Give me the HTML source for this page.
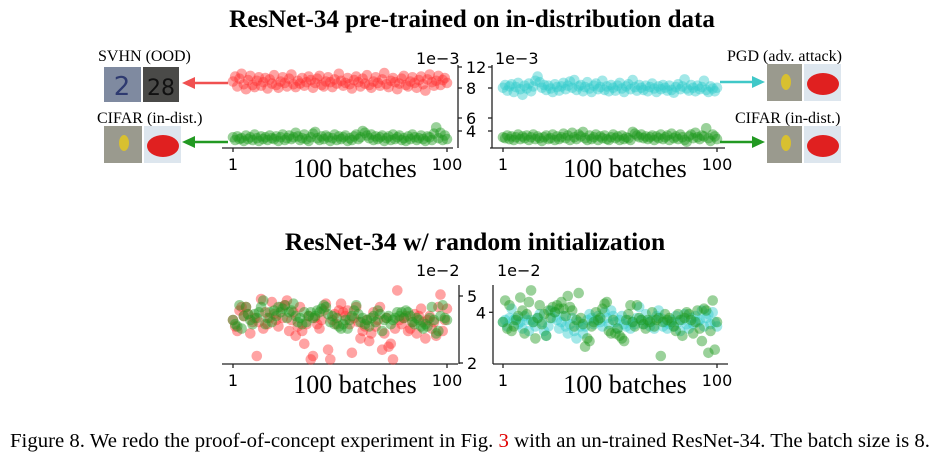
<!DOCTYPE html>
<html><head><meta charset="utf-8"><style>
body{margin:0;background:#fff;}
svg{display:block;}
.serif{font-family:"Liberation Serif",serif;}
.sans{font-family:"DejaVu Sans",sans-serif;}
</style></head><body>
<svg id="fig" width="945" height="460" viewBox="0 0 945 460">
<text x="472" y="27" text-anchor="middle" class="serif" font-size="25" font-weight="bold">ResNet-34 pre-trained on in-distribution data</text>
<text x="475" y="250" text-anchor="middle" class="serif" font-size="25.5" font-weight="bold">ResNet-34 w/ random initialization</text>
<text x="10" y="447" class="serif" font-size="20" textLength="920" lengthAdjust="spacingAndGlyphs">Figure 8. We redo the proof-of-concept experiment in Fig. <tspan fill="#e00000">3</tspan> with an un-trained ResNet-34. The batch size is 8.</text>

<text x="98" y="61" class="serif" font-size="16">SVHN (OOD)</text>
<rect x="104" y="67" width="37" height="35" fill="#7f8aa0"/>
<text x="122" y="95" text-anchor="middle" class="sans" font-size="26" fill="#2e3a70">2</text>
<rect x="143" y="67" width="36" height="35" fill="#4a4a48"/>
<text x="161" y="95" text-anchor="middle" class="sans" font-size="22" fill="#111">28</text>
<text x="97" y="123" class="serif" font-size="16">CIFAR (in-dist.)</text>
<rect x="104" y="126" width="38" height="37" fill="#9a9a8e"/>
<ellipse cx="124" cy="143" rx="5" ry="8" fill="#d8c030"/>
<rect x="144" y="126" width="37" height="37" fill="#dde6ee"/>
<ellipse cx="163" cy="146" rx="16" ry="11" fill="#e02020"/>

<text x="727" y="61" class="serif" font-size="16">PGD (adv. attack)</text>
<rect x="767" y="64" width="35" height="37" fill="#9a9a8e"/>
<ellipse cx="786" cy="82" rx="5" ry="8" fill="#d8c030"/>
<rect x="804" y="64" width="37" height="37" fill="#dde6ee"/>
<ellipse cx="823" cy="84" rx="16" ry="11" fill="#e02020"/>
<text x="735" y="123" class="serif" font-size="16">CIFAR (in-dist.)</text>
<rect x="767" y="126" width="35" height="37" fill="#9a9a8e"/>
<ellipse cx="786" cy="143" rx="5" ry="8" fill="#d8c030"/>
<rect x="804" y="126" width="37" height="37" fill="#dde6ee"/>
<ellipse cx="823" cy="146" rx="16" ry="11" fill="#e02020"/>

<g><line x1="228" y1="83" x2="192" y2="83" stroke="#f05050" stroke-width="2.5"/><polygon points="182,83 195,77 195,89" fill="#f05050"/></g>
<g><line x1="228" y1="142" x2="192" y2="142" stroke="#229922" stroke-width="2.5"/><polygon points="182,142 195,136 195,148" fill="#229922"/></g>
<g><line x1="720" y1="82" x2="755" y2="82" stroke="#40c8c8" stroke-width="2.5"/><polygon points="765,82 752,76 752,88" fill="#40c8c8"/></g>
<g><line x1="720" y1="142" x2="755" y2="142" stroke="#229922" stroke-width="2.5"/><polygon points="765,142 752,136 752,148" fill="#229922"/></g>

<g id="axes"></g>
<g id="marks"></g>
</svg>
<script>
const batchTicks=["1","100"];
const topTickLabels=["12","8","6","4"];
const botTickLabels=["5","2"];
const redTop=[9.5,10.2,8.8,9.9,10.6,9.1,8.4,9.7,10.3,9.0,8.7,9.6,10.1,8.9,9.4,10.0,8.5,9.8,9.2,10.4,9.0,8.6,9.5,10.1,9.3,8.8,9.9,10.5,9.1,8.7,9.6,9.2,10.0,8.9,9.4,10.2,9.7,8.6,9.3,9.9,10.3,9.0,8.8,9.5,10.1,9.4,8.7,9.8,9.2,10.6,9.6,8.9,9.3,10.0,9.1,8.5,9.7,10.2,9.4,8.8,9.9,9.2,10.4,9.0,8.6,9.5,10.1,9.3,8.9,9.8,10.7,9.1,8.7,9.6,10.0,9.4,8.4,9.2,9.9,10.3,9.0,8.8,9.5,10.1,9.3,8.6,9.7,10.2,9.1,8.2,9.8,10.5,9.4,8.9,9.6,10.3,9.0,9.7,10.0,9.3];
const greenTopL=[3.3,3.0,3.4,3.1,3.2,2.9,3.5,3.1,3.3,3.0,3.6,3.2,2.9,3.4,3.1,3.3,3.0,3.5,3.2,3.1,3.4,2.9,3.3,3.6,3.0,3.2,3.5,3.1,3.3,3.8,3.4,3.0,3.2,3.6,3.1,2.9,3.3,3.7,3.9,3.2,3.0,3.4,3.1,3.5,3.3,2.9,3.2,3.6,3.0,3.4,3.1,3.3,3.5,2.9,3.2,3.0,3.4,3.6,3.1,3.3,4.0,3.8,3.5,3.2,3.6,3.0,3.4,3.1,3.3,3.5,2.9,3.2,3.4,3.0,3.6,3.1,3.3,3.5,3.0,3.2,2.9,3.4,3.1,3.6,3.3,3.0,3.2,3.5,3.1,2.9,3.4,3.3,3.0,3.7,4.4,3.2,3.8,3.0,3.5,3.1];
const cyanTop=[8.6,9.0,8.2,8.8,9.1,8.0,8.7,9.3,8.4,7.6,8.9,8.5,9.2,8.1,8.8,9.6,10.2,9.4,8.6,9.0,8.3,8.9,8.5,8.0,9.1,8.7,8.2,8.8,9.3,8.4,8.9,9.5,8.6,9.7,8.3,8.8,9.0,8.1,8.7,9.4,8.5,8.0,8.9,9.2,8.4,8.7,9.6,8.3,8.8,8.1,9.0,8.6,8.2,8.9,9.3,8.5,8.0,8.8,9.1,8.4,9.7,8.7,8.2,9.0,8.6,8.3,8.9,8.1,8.7,9.2,8.5,8.0,8.8,8.4,9.0,8.6,8.2,8.9,8.3,7.9,8.7,9.1,8.4,8.8,9.8,8.5,8.2,9.0,8.6,8.1,8.9,8.4,8.7,9.6,8.3,8.0,8.8,8.5,8.1,8.6];
const greenTopR=[3.3,3.2,3.5,3.1,3.4,3.0,3.3,3.6,3.1,3.4,3.2,3.5,3.0,3.3,3.6,3.1,3.4,3.2,2.9,3.3,3.5,3.1,3.2,3.6,3.0,3.4,3.1,3.3,3.7,3.2,3.5,3.0,3.8,3.3,3.1,3.6,3.4,3.9,3.2,3.0,3.5,3.1,3.3,3.6,3.0,3.4,3.2,3.5,3.1,3.0,3.3,3.6,3.2,3.4,3.0,3.5,3.1,3.3,3.2,3.0,3.9,3.7,3.5,3.3,3.6,3.2,3.4,3.1,3.3,3.5,3.0,3.4,3.2,3.6,3.1,3.3,3.5,3.0,3.7,3.2,3.4,3.1,3.6,3.3,3.0,2.8,3.4,3.6,3.2,3.8,3.3,3.1,3.5,3.4,4.3,3.2,2.9,3.6,3.4,3.1];
const redBotL=[3.6,3.3,3.1,4.1,4.3,3.8,4.3,3.9,3.0,3.5,3.7,2.2,3.5,4.8,3.2,4.0,3.4,3.7,4.6,3.9,3.6,3.3,4.3,3.7,4.4,4.7,3.1,3.6,4.0,2.9,3.3,4.3,3.1,2.6,3.4,3.8,2.1,2.2,3.7,3.4,3.2,3.6,4.1,4.5,2.4,2.1,3.6,3.9,3.4,4.1,4.5,4.0,3.8,4.1,3.4,2.3,3.7,4.3,3.5,2.8,3.1,3.3,3.6,2.7,3.0,4.0,3.3,3.6,4.3,2.4,3.0,3.7,2.5,2.6,2.1,3.2,5.4,3.6,3.4,3.7,3.8,3.1,3.2,3.5,3.9,3.0,3.8,4.2,3.5,2.8,3.6,3.8,3.2,3.5,2.9,4.3,5.1,3.1,3.6,4.2];
const greenBotL=[3.6,3.4,3.3,4.4,3.2,3.8,4.3,3.9,3.6,3.4,3.9,3.7,4.0,4.3,4.7,3.4,3.7,4.0,3.5,4.1,3.8,4.3,4.0,4.2,4.4,3.7,4.0,4.1,4.5,3.8,3.5,3.7,3.4,4.0,3.5,3.8,4.0,3.7,3.8,4.1,4.0,4.2,4.4,4.3,3.9,3.5,3.8,3.4,3.7,3.3,3.2,3.4,3.6,3.2,3.6,3.8,4.1,4.4,3.9,3.5,3.7,3.4,3.6,3.3,3.7,3.8,3.5,4.1,3.9,3.1,3.6,3.7,3.8,3.4,3.6,3.7,4.0,3.8,4.0,3.7,4.1,4.0,3.8,3.5,3.4,3.7,3.6,3.3,3.2,3.4,3.3,3.7,4.3,3.6,3.0,3.1,3.8,4.4,3.7,3.6];
const cyanBotR=[3.5,3.6,3.3,3.7,4.2,3.6,3.7,3.4,3.5,3.2,3.8,3.6,3.1,3.6,3.5,3.3,3.7,3.9,3.5,3.1,2.9,3.3,4.1,3.7,4.0,3.6,3.2,3.5,3.8,3.3,3.0,3.4,3.7,3.1,2.8,3.5,3.3,3.0,3.3,3.6,3.9,3.7,3.4,3.6,3.8,3.5,3.3,4.0,3.7,3.4,4.1,3.8,3.5,3.2,3.6,3.8,3.4,3.3,3.6,3.2,3.5,3.4,3.7,4.3,3.6,3.4,3.9,3.5,3.3,3.6,3.2,3.8,4.1,3.7,3.3,3.5,3.2,3.4,3.6,3.3,3.8,3.5,3.1,3.6,3.9,3.4,3.2,3.7,3.4,3.8,3.5,3.6,4.1,3.3,3.7,3.9,3.4,4.0,3.5,3.3];
const greenBotR=[3.5,4.7,3.2,4.4,3.1,3.3,3.6,3.8,4.9,4.1,3.0,3.9,4.6,5.4,3.5,2.8,3.7,4.4,3.4,3.9,2.9,4.1,3.7,4.3,4.0,4.4,4.2,4.6,4.2,3.8,5.0,4.3,4.1,3.3,3.6,5.2,3.7,3.4,2.5,2.8,2.7,3.3,3.5,4.0,3.6,3.7,4.2,4.5,4.6,3.1,3.0,3.6,3.0,3.2,2.9,2.8,2.7,3.6,3.9,4.4,3.5,3.3,4.4,3.7,3.6,3.4,3.2,3.6,3.5,4.0,3.3,3.6,3.7,2.2,3.5,3.9,3.6,3.7,3.5,3.3,3.1,3.9,3.6,2.9,3.7,4.0,3.9,3.6,3.0,3.5,4.1,3.2,2.7,4.2,4.1,2.3,3.1,4.7,2.4,3.5];

const NS="http://www.w3.org/2000/svg";
const axes=document.getElementById('axes'), marks=document.getElementById('marks');
function mk(tag,attrs,parent){const e=document.createElementNS(NS,tag);for(const k in attrs)e.setAttribute(k,attrs[k]);parent.appendChild(e);return e;}
function xL(b){return 233+(b-1)*(447-233)/99;}
function xR(b){return 503+(b-1)*(717-503)/99;}
function yTopUp(v){return 92-(v-8)*7;}
function yTopLo(v){return 131-(v-4)*9;}
function yTopTick(v){return v>=8?88-(v-8)*(21/4):131-(v-4)*(13/2);}
function yBot(v){return 363-(Math.log10(v)-Math.log10(2))*(67/Math.log10(2.5));}

function scatter(arr,xf,yf,color,name){
  const g=mk('g',{},marks);
  
  
  arr.forEach((v,i)=>{const b=1+i*99/(arr.length-1);
    const c=mk('circle',{cx:xf(b).toFixed(1),cy:yf(v).toFixed(1),r:5.3,fill:color,'fill-opacity':0.45},g);
    
    
  });
}
function txt(x,y,s,size,cls,anchor,name){const t=mk('text',{x:x,y:y,'font-size':size,'class':cls,'text-anchor':anchor||'start'},axes);t.textContent=s;
  
  return t;}
function line(x1,y1,x2,y2,name){const l=mk('line',{x1,y1,x2,y2,stroke:'#222','stroke-width':1.3},axes);
  
  }

function xAxis(x0,x1,y,xf,name){
  line(x0,y,x1,y,name+'-x-axis');
  batchTicks.forEach(s=>{const x=xf(+s);line(x,y,x,y+4,name+'-x-tick');txt(x,y+22,s,16,'sans','middle',name+'-x-tick-label');});
  txt((xf(1)+xf(100))/2+15,y+29,'100 batches',26,'serif','middle',name+'-x-title');
}
xAxis(222,453,148,xL,'top-left');
line(458,65,458,148,'top-left-y-axis');
topTickLabels.forEach(s=>{const y=yTopTick(+s);line(458,y,462,y,'top-left-y-tick');txt(466,y+6,s,16,'sans','start','top-left-y-tick-label');});
txt(416,64,'1e\u22123',16,'sans','start','top-left-exponent');
xAxis(490,725,148,xR,'top-right');
line(492,65,492,148,'top-right-y-axis');
topTickLabels.forEach(s=>{const y=yTopTick(+s);line(488,y,492,y,'top-right-y-tick');});
txt(495,64,'1e\u22123',16,'sans','start','top-right-exponent');

xAxis(222,458,364,xL,'bottom-left');
line(459,285,459,364,'bottom-left-y-axis');
botTickLabels.forEach(s=>{const y=yBot(+s);line(459,y,463,y,'bottom-left-y-tick');txt(467,y+6,s,16,'sans','start','bottom-left-y-tick-label');});
txt(416,276,'1e\u22122',16,'sans','start','bottom-left-exponent');
xAxis(493,728,364,xR,'bottom-right');
line(493,285,493,364,'bottom-right-y-axis');
line(489,yBot(4),493,yBot(4),'bottom-right-y-tick');
txt(481,yBot(4)+6,'4',16,'sans','middle','bottom-right-y-tick-label');
txt(497,276,'1e\u22122',16,'sans','start','bottom-right-exponent');

scatter(redTop,xL,yTopUp,'#ff3333','svhn-scores');
scatter(greenTopL,xL,yTopLo,'#1e9a1e','cifar-scores-left');
scatter(cyanTop,xR,yTopUp,'#33cccc','pgd-scores');
scatter(greenTopR,xR,yTopLo,'#1e9a1e','cifar-scores-right');
scatter(redBotL,xL,yBot,'#ff3333','svhn-scores-random');
scatter(greenBotL,xL,yBot,'#1e9a1e','cifar-scores-random-left');
scatter(cyanBotR,xR,yBot,'#33cccc','pgd-scores-random');
scatter(greenBotR,xR,yBot,'#1e9a1e','cifar-scores-random-right');
</script>
</body></html>
